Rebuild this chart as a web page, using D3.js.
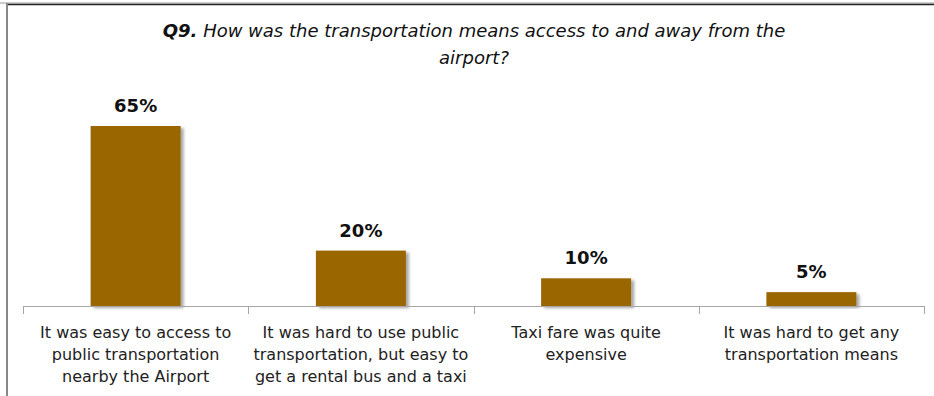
<!DOCTYPE html>
<html>
<head>
<meta charset="utf-8">
<script src="https://cdn.jsdelivr.net/npm/d3@7"></script>
<style>
  html, body { margin: 0; padding: 0; background: #fff; }
  svg { display: block; }
</style>
</head>
<body>
<svg id="chart" width="934" height="396"></svg>
<script>
// Survey answers, one bar per answer
const categories = [
  "It was easy to access to\npublic transportation\nnearby the Airport",
  "It was hard to use public\ntransportation, but easy to\nget a rental bus and a taxi",
  "Taxi fare was quite\nexpensive",
  "It was hard to get any\ntransportation means"
];
const shares = [65, 20, 10, 5];
const valueLabels = ["65%", "20%", "10%", "5%"];

const svg = d3.select("#chart");
const W = 934, H = 396;
const baseline = 306;

// Soft shadow under the bars
const defs = svg.append("defs");
const f = defs.append("filter").attr("id", "shadow")
  .attr("x", "-10%").attr("y", "-10%").attr("width", "130%").attr("height", "130%");
f.append("feDropShadow").attr("dx", 3).attr("dy", 2)
  .attr("stdDeviation", 1.6).attr("flood-color", "#000").attr("flood-opacity", 0.35);

// Frame lines
svg.append("line").attr("x1", 0).attr("x2", W).attr("y1", 3).attr("y2", 3)
  .attr("stroke", "#999").attr("stroke-width", 1);
svg.append("line").attr("x1", 6).attr("x2", W).attr("y1", 4.5).attr("y2", 4.5)
  .attr("stroke", "#222").attr("stroke-width", 1.5);
svg.append("line").attr("x1", 7).attr("x2", 7).attr("y1", 3).attr("y2", H)
  .attr("stroke", "#888").attr("stroke-width", 2);

// Title
const title = svg.append("text")
  .attr("text-anchor", "middle")
  .attr("font-family", "DejaVu Sans")
  .attr("font-size", 18)
  .attr("font-style", "italic")
  .attr("fill", "#111");
const t1 = title.append("tspan").attr("x", 474).attr("y", 37);
t1.append("tspan").attr("font-weight", "bold").text("Q9.");
t1.append("tspan").text(" How was the transportation means access to and away from the");
title.append("tspan").attr("x", 474).attr("y", 64).text("airport?");

// Scales
const x = d3.scaleBand()
  .domain(categories)
  .range([23, 924])
  .paddingInner(0)
  .paddingOuter(0);
const y = d3.scaleLinear().domain([0, 65]).range([baseline, 126]);

const barW = 90;

// Bars
svg.append("g").selectAll("rect")
  .data(shares)
  .join("rect")
  .attr("x", (d, i) => x(categories[i]) + x.bandwidth() / 2 - barW / 2)
  .attr("y", d => y(d))
  .attr("width", barW)
  .attr("height", d => baseline - y(d))
  .attr("fill", "#996600")
  .attr("filter", "url(#shadow)");

// Value labels
svg.append("g").selectAll("text")
  .data(shares)
  .join("text")
  .attr("x", (d, i) => x(categories[i]) + x.bandwidth() / 2)
  .attr("y", d => y(d) - 14)
  .attr("text-anchor", "middle")
  .attr("font-family", "DejaVu Sans")
  .attr("font-weight", "bold")
  .attr("font-size", 18)
  .attr("fill", "#111")
  .text((d, i) => valueLabels[i]);

// Category axis with boundary ticks
const axis = svg.append("g");
axis.append("line").attr("x1", 23).attr("x2", 924)
  .attr("y1", baseline + 0.5).attr("y2", baseline + 0.5)
  .attr("stroke", "#a6a6a6").attr("stroke-width", 1);
const bounds = categories.map(c => x(c)).concat([x.range()[1]]);
axis.selectAll("line.tick").data(bounds).join("line")
  .attr("class", "tick")
  .attr("x1", d => Math.round(d) + 0.5).attr("x2", d => Math.round(d) + 0.5)
  .attr("y1", baseline).attr("y2", baseline + 8)
  .attr("stroke", "#a6a6a6").attr("stroke-width", 1);

// Category labels
const labels = axis.selectAll("text.cat").data(categories).join("text")
  .attr("class", "cat")
  .attr("text-anchor", "middle")
  .attr("font-family", "DejaVu Sans")
  .attr("font-size", 16)
  .attr("fill", "#222");
labels.each(function(d) {
  const cx = x(d) + x.bandwidth() / 2;
  d.split("\n").forEach((line, k) => {
    d3.select(this).append("tspan").attr("x", cx).attr("y", 338 + k * 22).text(line);
  });
});
</script>
</body>
</html>
